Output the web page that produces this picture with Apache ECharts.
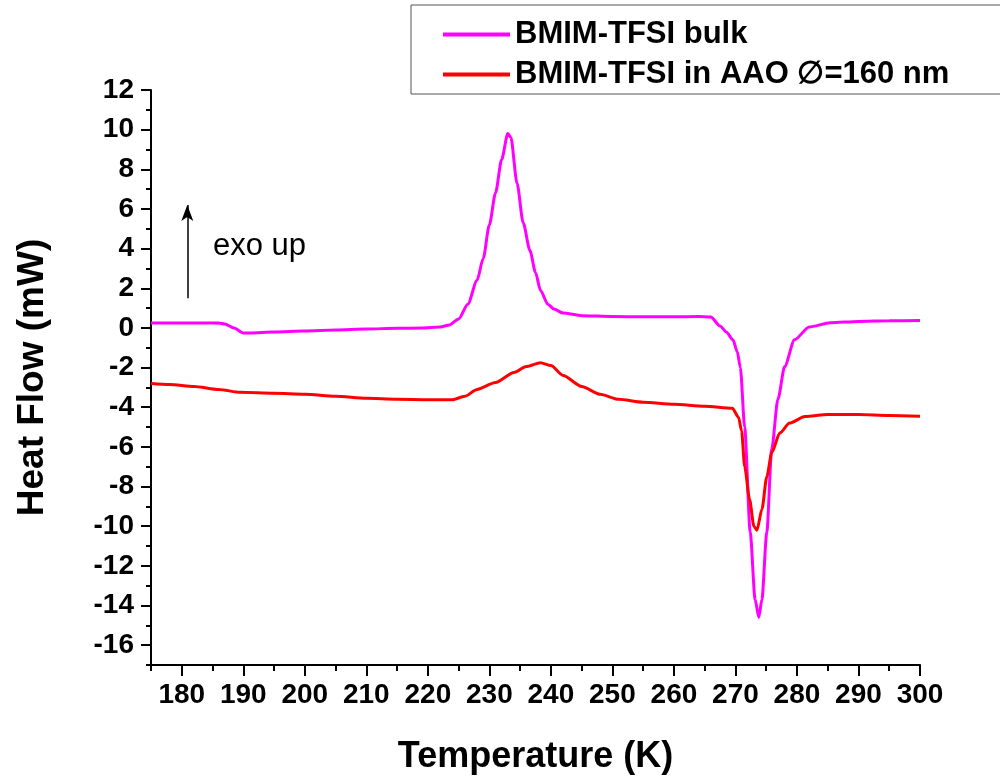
<!DOCTYPE html>
<html><head><meta charset="utf-8">
<script src="https://cdn.jsdelivr.net/npm/echarts@6/dist/echarts.min.js"></script>
<style>html,body{margin:0;padding:0;background:#fff}#c{width:1000px;height:780px}</style>
</head><body><div id="c"></div>
<script>
const seriesNames = ['BMIM-TFSI bulk', 'BMIM-TFSI in AAO \u2205=160 nm'];
const tempBulk = [175,186,187,188.5,190,191,195,200,205,210,215,219,222,223.5,225,226.5,228,229,230,231,232,233,233.5,234.5,235.5,236.6,237.5,238.3,239.5,240.5,242,245,250,255,260,264,266,267.5,268.5,269.6,270.3,270.8,271.5,272.4,273.2,273.8,274.3,275.1,275.9,276.9,278,279.6,282,285.4,290,295,300];
const hfBulk = [0.25,0.25,0.2,0.0,-0.25,-0.25,-0.2,-0.15,-0.1,-0.05,-0.02,0.0,0.05,0.15,0.45,1.2,2.4,3.5,5.2,6.8,8.5,9.8,9.6,7.3,5.3,3.9,2.8,1.9,1.2,0.95,0.75,0.62,0.58,0.56,0.56,0.58,0.55,0.1,-0.2,-0.6,-1.2,-2.0,-5.0,-10.3,-13.7,-14.6,-13.7,-10.3,-6.1,-3.6,-1.95,-0.6,0.05,0.26,0.33,0.36,0.37];
const tempAAO = [175,178,182,186,189.5,195,200,205,210,215,220,224,226,228,231,234,236,238.3,240,242,245,248,251,255,260,265,269.5,270.5,271,271.5,272.3,273,273.5,274.3,275.1,275.9,277.2,278.8,281.3,285,290,295,300];
const hfAAO = [-2.8,-2.85,-2.95,-3.1,-3.25,-3.3,-3.35,-3.45,-3.55,-3.6,-3.62,-3.62,-3.45,-3.1,-2.75,-2.25,-1.95,-1.75,-1.9,-2.4,-2.95,-3.35,-3.6,-3.75,-3.85,-3.95,-4.05,-4.5,-5.2,-7.0,-8.65,-10.0,-10.2,-9.15,-7.5,-6.3,-5.3,-4.8,-4.47,-4.37,-4.37,-4.42,-4.45];
const xMajor = [180,190,200,210,220,230,240,250,260,270,280,290,300];
const xMinor = [175,185,195,205,215,225,235,245,255,265,275,285,295];
const yMajor = [-16,-14,-12,-10,-8,-6,-4,-2,0,2,4,6,8,10,12];
const yMinor = [-17,-15,-13,-11,-9,-7,-5,-3,-1,1,3,5,7,9,11];
const arrowFrom = [180.9, 1.5];
const arrowTo = [180.9, 6.2];

const FONT = '"Liberation Sans", Arial, sans-serif';
const zip = (a, b) => a.map((v, i) => [v, b[i]]);
const chart = echarts.init(document.getElementById('c'));
const axisLineStyle = {color: '#000', width: 2};
chart.setOption({
  animation: false,
  backgroundColor: '#fff',
  grid: {left: 151, top: 90, right: 80, bottom: 114, containLabel: false},
  legend: {
    left: 411, top: 5, orient: 'vertical', selectedMode: false,
    borderColor: '#555', borderWidth: 1, padding: [14, 120, 4, 32],
    itemWidth: 67, itemHeight: 4, itemGap: 9, icon: 'rect',
    textStyle: {fontFamily: FONT, fontWeight: 'bold', fontSize: 31, color: '#000', lineHeight: 31},
    data: seriesNames
  },
  xAxis: [{
    type: 'value', min: 175, max: 300, position: 'bottom',
    name: 'Temperature (K)', nameLocation: 'middle', nameGap: 74,
    nameTextStyle: {fontFamily: FONT, fontWeight: 'bold', fontSize: 36, color: '#000'},
    axisLine: {show: true, onZero: false, lineStyle: axisLineStyle},
    axisTick: {show: true, inside: false, length: 11, lineStyle: axisLineStyle, customValues: xMajor},
    axisLabel: {fontFamily: FONT, fontWeight: 'bold', fontSize: 28, color: '#000', margin: 16, customValues: xMajor},
    splitLine: {show: false}
  }, {
    type: 'value', min: 175, max: 300, position: 'bottom', offset: 0,
    axisLine: {show: false, onZero: false},
    axisTick: {show: true, inside: false, length: 6, lineStyle: axisLineStyle, customValues: xMinor},
    axisLabel: {show: false},
    splitLine: {show: false}
  }],
  yAxis: [{
    type: 'value', min: -17, max: 12, position: 'left',
    name: 'Heat Flow (mW)', nameLocation: 'middle', nameGap: 100, nameRotate: 90,
    nameTextStyle: {fontFamily: FONT, fontWeight: 'bold', fontSize: 37, color: '#000'},
    axisLine: {show: true, onZero: false, lineStyle: axisLineStyle},
    axisTick: {show: true, inside: false, length: 10, lineStyle: axisLineStyle, customValues: yMajor},
    axisLabel: {fontFamily: FONT, fontWeight: 'bold', fontSize: 28, color: '#000', margin: 17, customValues: yMajor},
    splitLine: {show: false}
  }, {
    type: 'value', min: -17, max: 12, position: 'left', offset: 0,
    axisLine: {show: false, onZero: false},
    axisTick: {show: true, inside: false, length: 5, lineStyle: axisLineStyle, customValues: yMinor},
    axisLabel: {show: false},
    splitLine: {show: false}
  }],
  series: [{
    name: seriesNames[0], type: 'line', data: zip(tempBulk, hfBulk),
    symbol: 'none', smooth: 0.25, smoothMonotone: 'x',
    lineStyle: {color: '#ff00ff', width: 3}, itemStyle: {color: '#ff00ff'}, z: 3
  }, {
    name: seriesNames[1], type: 'line', data: zip(tempAAO, hfAAO),
    symbol: 'none', smooth: 0.25, smoothMonotone: 'x',
    lineStyle: {color: '#ff0000', width: 3}, itemStyle: {color: '#ff0000'}, z: 4,
    markLine: {
      silent: true, symbol: ['none', 'arrow'], symbolSize: [9, 16],
      lineStyle: {color: '#000', width: 1.5, type: 'solid'}, label: {show: false},
      data: [[{coord: arrowFrom}, {coord: arrowTo}]]
    }
  }],
  graphic: [{
    type: 'text', left: 213, top: 231,
    style: {text: 'exo up', fontFamily: FONT, fontSize: 31, fill: '#000'}
  }]
});
</script></body></html>
